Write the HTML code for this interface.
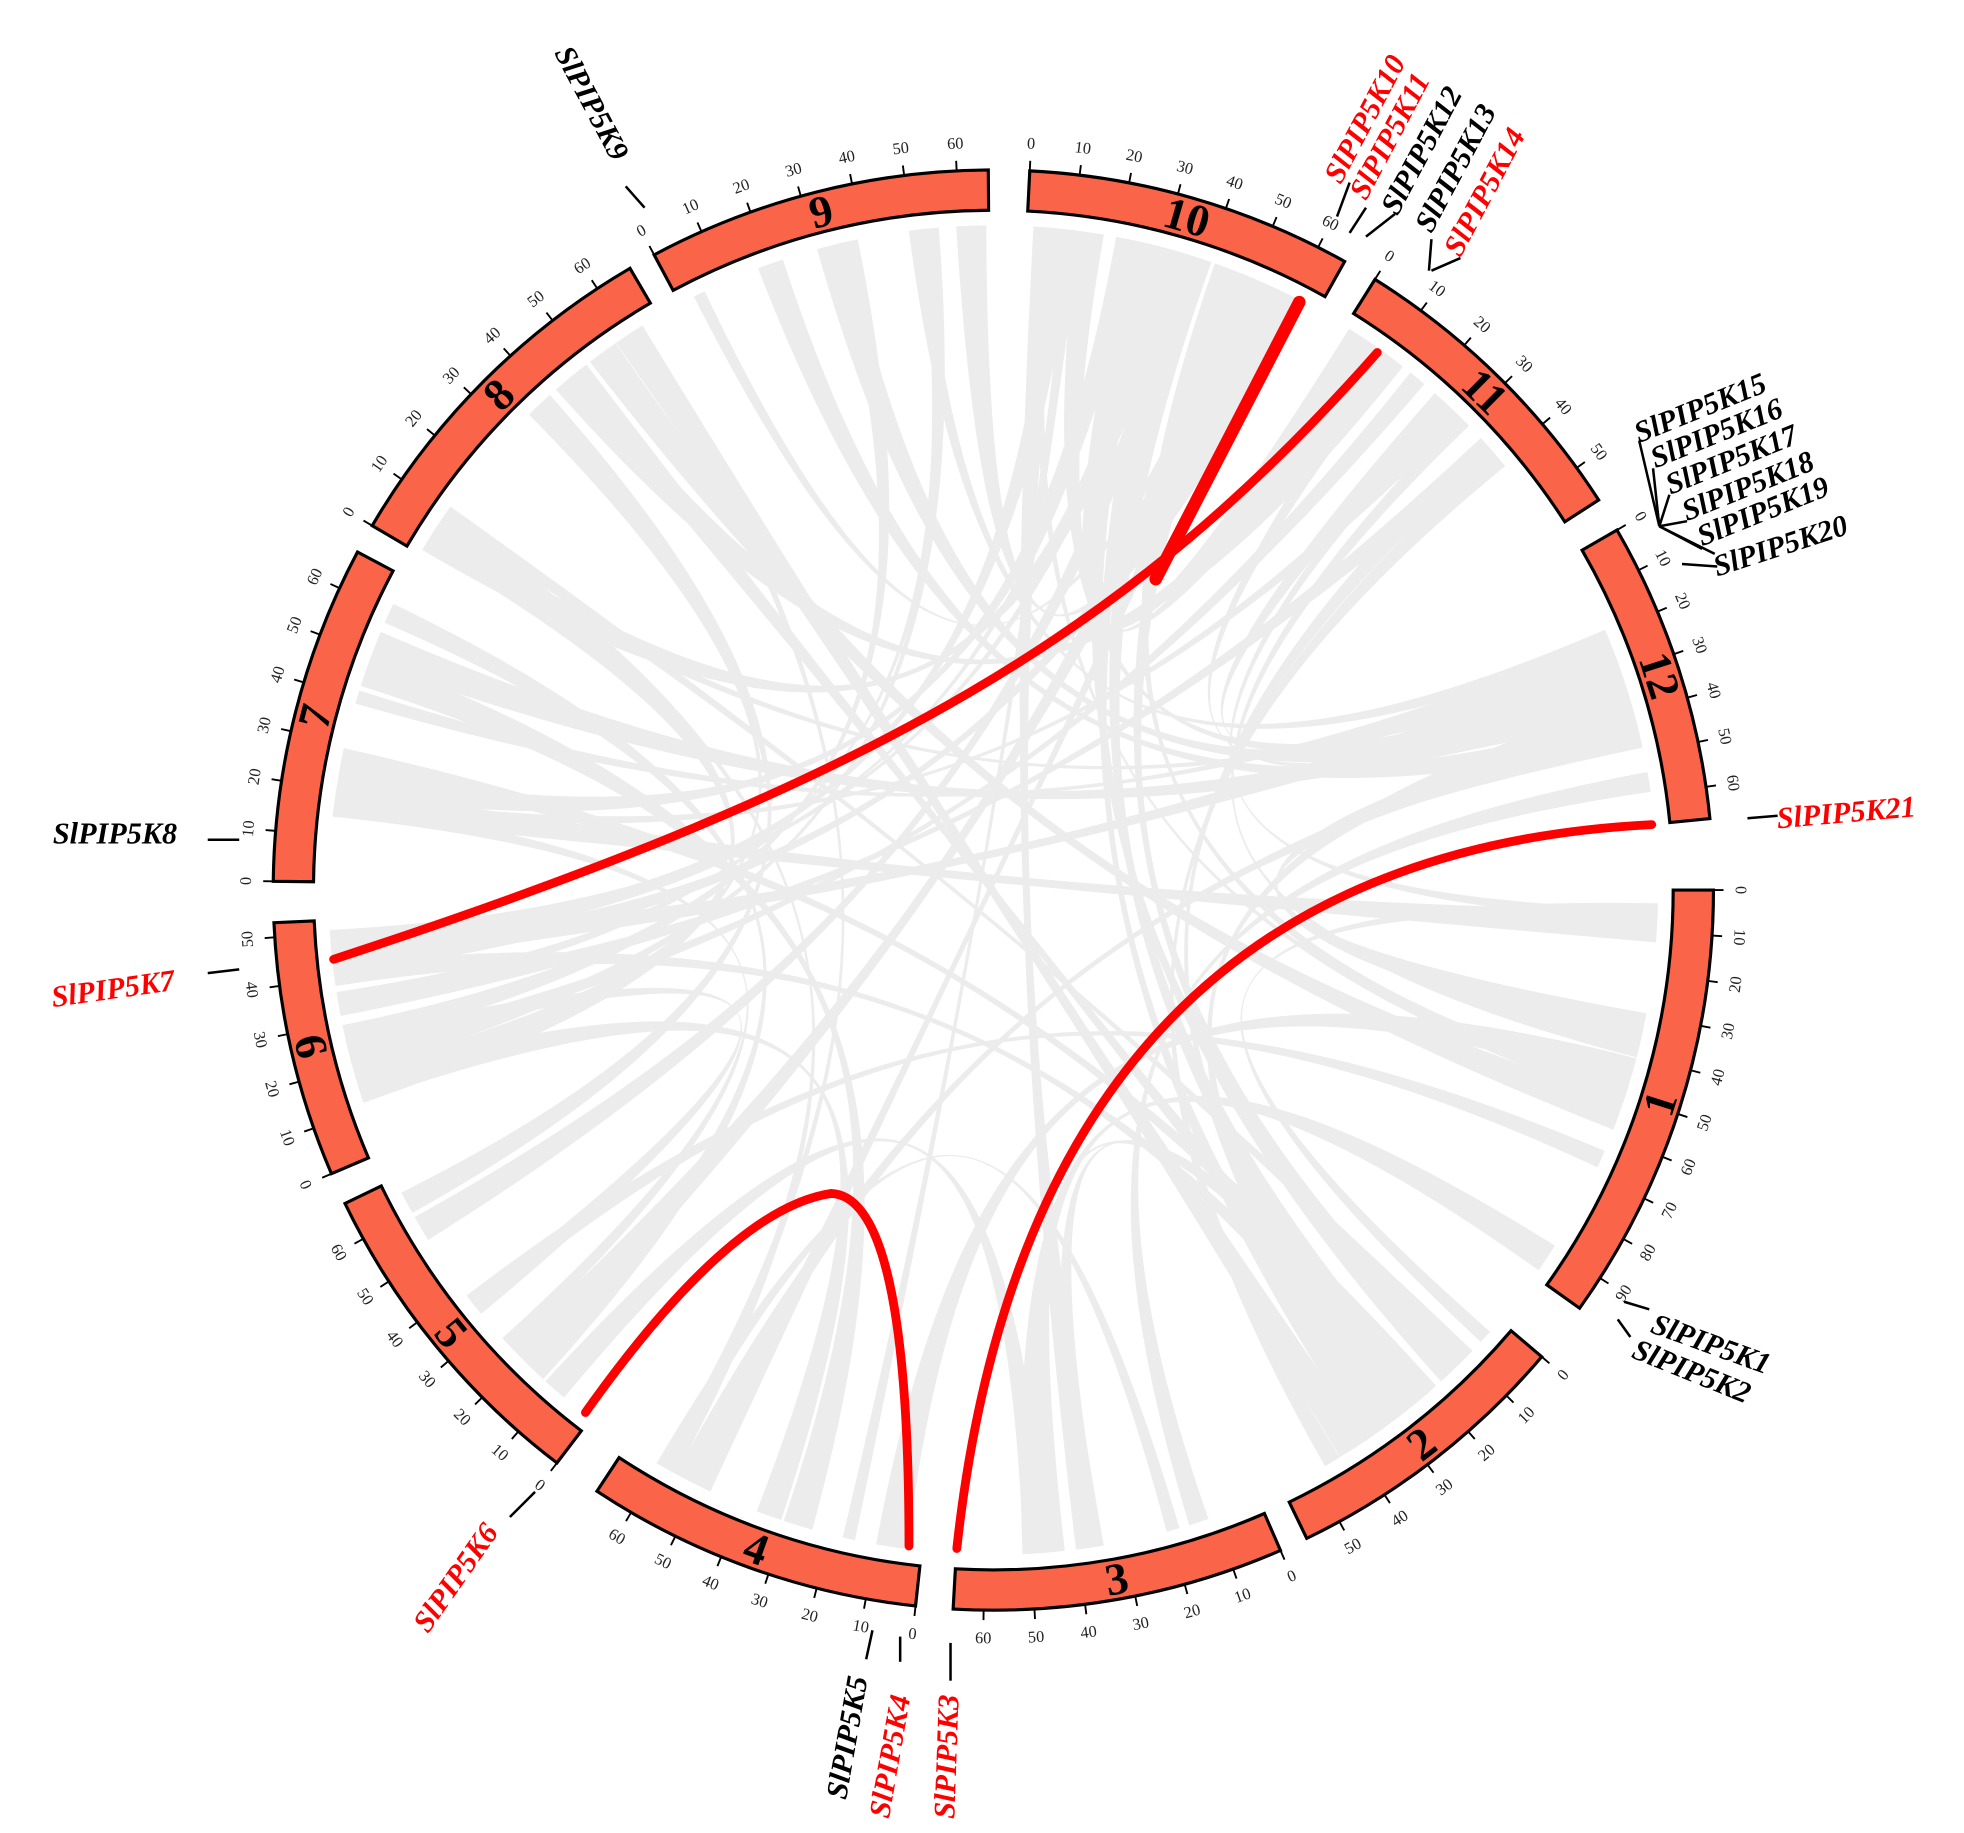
<!DOCTYPE html>
<html><head><meta charset="utf-8"><style>
html,body{margin:0;padding:0;background:#fff;}
svg{display:block;}
text{font-family:"Liberation Serif","Times New Roman",serif;}
</style></head><body>
<svg id="s" width="1964" height="1833" viewBox="0 0 1560 1456" preserveAspectRatio="none" xmlns="http://www.w3.org/2000/svg" font-family="Liberation Serif, serif">
<g id="gray"></g><g id="chr"></g><g id="red" fill="none" stroke="#ff0000" stroke-linecap="round"></g><g id="lab"></g>
</svg>
<script>
const NS="http://www.w3.org/2000/svg";
const cx=789,cy=707,R1=540,R2=572,RL=528;
const rad=d=>d*Math.PI/180;
const P=(r,t)=>[cx+r*Math.sin(rad(t)),cy-r*Math.cos(rad(t))];
function el(tag,attrs,parent,txt){const e=document.createElementNS(NS,tag);for(const k in attrs)e.setAttribute(k,attrs[k]);if(txt!==undefined)e.textContent=txt;parent.appendChild(e);return e;}
const chroms=[["1",90,125.5,98],["2",130.4,154.2,57],["3",156.5,183.2,66],["4",186.2,213.4,68],["5",217.3,244.2,68],["6",246.8,267.4,53],["7",270.7,298,68],["8",300.4,329.7,67],["9",331.9,359.6,66],["10",2.9,29.2,66],["11",32,57.2,57],["12",60,84.3,67]];
const gC=document.getElementById('chr'),gG=document.getElementById('gray'),gR=document.getElementById('red'),gL=document.getElementById('lab');
let seed=11;const rnd=()=>{seed=(seed*16807)%2147483647;return seed/2147483647;};
function randPos(){const c=chroms[Math.floor(rnd()*12)];return c[1]+1.5+rnd()*(c[2]-c[1]-3);}
for(let i=0;i<80;i++){
 let a=randPos(),b=randPos();
 if(Math.abs(a-b)<20||Math.abs(a-b)>340)continue;
 const w=0.5+rnd()*1.0;
 const [x1,y1]=P(RL,a-w),[x2,y2]=P(RL,a+w),[x3,y3]=P(RL,b-w),[x4,y4]=P(RL,b+w);
 const [m1,n1]=P(RL*0.25,a),[m2,n2]=P(RL*0.25,b);
 const d=`M${x1},${y1} A${RL},${RL} 0 0 1 ${x2},${y2} C${m1},${n1} ${m2},${n2} ${x3},${y3} A${RL},${RL} 0 0 1 ${x4},${y4} C${m2},${n2} ${m1},${n1} ${x1},${y1}Z`;
 el('path',{d,fill:'#ececec'},gG);
}
for(const [n,s,e,len] of chroms){
 const [a1,b1]=P(R2,s),[a2,b2]=P(R2,e),[a3,b3]=P(R1,e),[a4,b4]=P(R1,s);
 el('path',{d:`M${a1},${b1} A${R2},${R2} 0 0 1 ${a2},${b2} L${a3},${b3} A${R1},${R1} 0 0 0 ${a4},${b4}Z`,fill:'#fa6448',stroke:'#000','stroke-width':2.5},gC);
 const sc=(e-s)/len;
 for(let v=0;v<=len;v+=10){
  const t=s+v*sc;const [x1,y1]=P(R2,t),[x2,y2]=P(R2+8,t),[tx,ty]=P(R2+22,t);
  el('line',{x1,y1,x2,y2,stroke:'#000','stroke-width':1.5},gC);
  let rot=(t>95&&t<265)?t-180:t;
  el('text',{x:tx,y:ty,'font-size':13,'font-family':'Liberation Serif, serif','text-anchor':'middle','dominant-baseline':'central',transform:`rotate(${rot} ${tx} ${ty})`,fill:'#222'},gC,String(v));
 }
 const m=(s+e)/2;const [nx,ny]=P(556,m);let rot=(m>95&&m<265)?m-180:m;
 el('text',{x:nx,y:ny,'font-size':36,'font-weight':'bold','font-family':'Liberation Serif, serif','text-anchor':'middle','dominant-baseline':'central',transform:`rotate(${rot} ${nx} ${ny})`},gC,n);
}
el('path',{d:'M1032,240 L918,460','stroke-width':10},gR);
el('path',{d:'M1094,280 C900,500 700,620 265,762','stroke-width':7},gR);
el('path',{d:'M1312,655 Q820,680 760,1230','stroke-width':7},gR);
el('path',{d:'M465,1122 Q580,960 660,948 Q722,950 722,1228','stroke-width':7},gR);
const labs=[
 ["SlPIP5K9",440,42,62,'#000'],
 ["SlPIP5K10",1065,147,-62,'#f00'],["SlPIP5K11",1085,160,-62,'#f00'],["SlPIP5K12",1110,172,-62,'#000'],
 ["SlPIP5K13",1137,186,-62,'#000'],["SlPIP5K14",1160,205,-62,'#f00'],
 ["SlPIP5K15",1302,352,-22,'#000'],["SlPIP5K16",1315,372,-22,'#000'],["SlPIP5K17",1327,393,-22,'#000'],
 ["SlPIP5K18",1340,414,-22,'#000'],["SlPIP5K19",1352,434,-22,'#000'],["SlPIP5K20",1364,458,-18,'#000'],
 ["SlPIP5K21",1412,658,-5,'#f00'],
 ["SlPIP5K1",1310,1058,20,'#000'],["SlPIP5K2",1295,1078,22,'#000'],
 ["SlPIP5K3",758,1445,-88,'#f00'],["SlPIP5K4",706,1445,-80,'#f00'],["SlPIP5K5",672,1430,-80,'#000'],
 ["SlPIP5K6",340,1298,-55,'#f00'],["SlPIP5K7",42,800,-8,'#f00'],["SlPIP5K8",42,670,0,'#000']];
for(const [t,x,y,r,c] of labs){
 el('text',{x,y,'font-size':24,'font-weight':'bold','font-style':'italic','font-family':'Liberation Serif, serif',fill:c,transform:`rotate(${r} ${x} ${y})`},gL,t);
}
const lines=[[497,148,512,165],[1062,172,1072,145],[1072,185,1085,165],[1085,188,1108,170],[1135,215,1137,190],[1137,215,1160,205],
[1318,418,1302,350],[1318,418,1313,372],[1318,418,1326,393],[1318,418,1340,414],[1318,418,1352,436],[1318,418,1362,440],[1336,448,1364,450],
[1388,650,1412,648],[1290,1034,1310,1040],[1285,1048,1295,1062],
[755,1305,755,1335],[715,1300,715,1320],[693,1295,688,1318],[405,1205,425,1185],[165,773,190,770],[165,667,190,667]];
for(const [x1,y1,x2,y2] of lines)el('line',{x1,y1,x2,y2,stroke:'#000','stroke-width':2},gL);
</script>
</body></html>
